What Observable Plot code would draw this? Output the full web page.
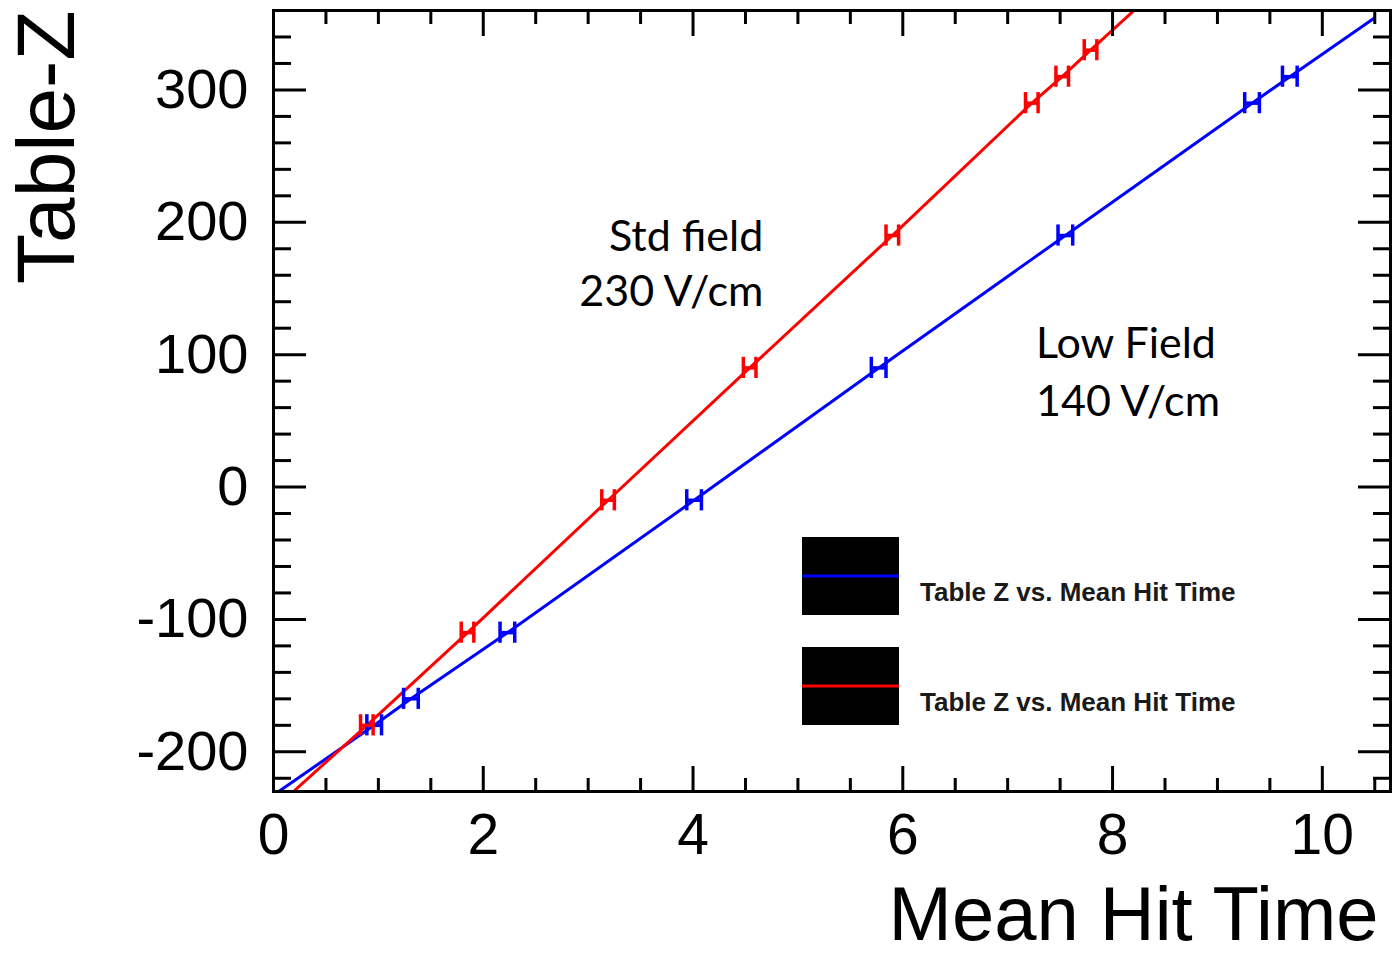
<!DOCTYPE html>
<html>
<head>
<meta charset="utf-8">
<script src="https://cdn.jsdelivr.net/npm/d3@7"></script>
<script src="https://cdn.jsdelivr.net/npm/@observablehq/plot@0.6"></script>
<style>
  body { margin: 0; background: #fff; }
  #chart svg { display: block; }
</style>
</head>
<body>
<div id="chart"></div>
<script>
// ---- Data ----
// Std field (230 V/cm) measurement points: x = mean hit time, y = table Z, xErr = half width
const redX    = [0.89, 1.85, 3.19, 4.54, 5.90, 7.23, 7.52, 7.79];
const redY    = [-180, -110, -10, 90, 190, 290, 310, 330];
const redErr  = [0.06, 0.06, 0.06, 0.06, 0.06, 0.06, 0.06, 0.06];
// Low field (140 V/cm) measurement points
const blueX   = [0.96, 1.31, 2.23, 4.01, 5.77, 7.55, 9.33, 9.69];
const blueY   = [-180, -160, -110, -10, 90, 190, 290, 310];
const blueErr = [0.07, 0.07, 0.07, 0.07, 0.07, 0.07, 0.07, 0.07];
// Connecting curves (graph lines) including their ends
const redLineX  = [0.19, 0.89, 1.85, 3.19, 4.54, 5.90, 7.23, 7.52, 7.79, 8.26];
const redLineY  = [-230, -180, -110, -10, 90, 190, 290, 310, 330, 364];
const blueLineX = [0.05, 0.96, 1.31, 2.23, 4.01, 5.77, 7.55, 9.33, 9.69, 10.49];
const blueLineY = [-230, -180, -160, -110, -10, 90, 190, 290, 310, 354];
// Axis ticks
const xMajor = [0, 2, 4, 6, 8, 10];
const xMinor = [0.5, 1, 1.5, 2.5, 3, 3.5, 4.5, 5, 5.5, 6.5, 7, 7.5, 8.5, 9, 9.5, 10.5];
const yMajor = [-200, -100, 0, 100, 200, 300];
const yMinor = [-220, -180, -160, -140, -120, -80, -60, -40, -20, 20, 40, 60, 80, 120, 140, 160, 180, 220, 240, 260, 280, 320, 340];
// Annotations
const annoText = ["Std field", "230 V/cm", "Low Field", "140 V/cm"];
const annoX    = [4.67, 4.67, 7.27, 7.27];
const annoY    = [189, 147, 108, 64];
const annoSide = ["end", "end", "start", "start"];
// Legend
const legendLabels = ["Table Z vs. Mean Hit Time", "Table Z vs. Mean Hit Time"];
const seriesColors = ["#0000ff", "#ff0000"];

// ---- Build tables ----
const red  = redX.map((x, i) => ({x, y: redY[i], e: redErr[i]}));
const blue = blueX.map((x, i) => ({x, y: blueY[i], e: blueErr[i]}));
const redLine  = redLineX.map((x, i) => ({x, y: redLineY[i]}));
const blueLine = blueLineX.map((x, i) => ({x, y: blueLineY[i]}));
const annos = annoText.map((t, i) => ({t, x: annoX[i], y: annoY[i], a: annoSide[i]}));

const W = 1393, H = 960;
const capHalf = 8; // cap half-height in y units (~10 px)

function errMarks(data, color) {
  return [
    Plot.link(data, {x1: d => d.x - d.e, x2: d => d.x + d.e, y1: "y", y2: "y", stroke: color, strokeWidth: 3.5}),
    Plot.ruleX(data, {x: d => d.x - d.e, y1: d => d.y - capHalf, y2: d => d.y + capHalf, stroke: color, strokeWidth: 3.5}),
    Plot.ruleX(data, {x: d => d.x + d.e, y1: d => d.y - capHalf, y2: d => d.y + capHalf, stroke: color, strokeWidth: 3.5})
  ];
}

const plot = Plot.plot({
  width: W,
  height: H,
  marginLeft: 273,
  marginRight: 3,
  marginTop: 10,
  marginBottom: 169,
  style: {fontFamily: "'Liberation Sans', Arial, Helvetica, sans-serif", background: "#fff", color: "#000"},
  x: {domain: [0, 10.65]},
  y: {domain: [-230, 360]},
  marks: [
    // data lines
    Plot.line(blueLine, {x: "x", y: "y", stroke: seriesColors[0], strokeWidth: 3, clip: true}),
    Plot.line(redLine,  {x: "x", y: "y", stroke: seriesColors[1], strokeWidth: 3, clip: true}),
    ...errMarks(blue, seriesColors[0]),
    ...errMarks(red,  seriesColors[1]),
    // inward ticks on all four sides
    Plot.axisX(xMajor, {anchor: "bottom", tickSize: -25, strokeWidth: 3, tickFormat: () => "", label: null}),
    Plot.axisX(xMinor, {anchor: "bottom", tickSize: -13, strokeWidth: 3, tickFormat: () => "", label: null}),
    Plot.axisX(xMajor, {anchor: "top", tickSize: -25, strokeWidth: 3, tickFormat: () => "", label: null}),
    Plot.axisX(xMinor, {anchor: "top", tickSize: -13, strokeWidth: 3, tickFormat: () => "", label: null}),
    Plot.axisY(yMajor, {anchor: "left", tickSize: -33, strokeWidth: 3, tickFormat: () => "", label: null}),
    Plot.axisY(yMinor, {anchor: "left", tickSize: -18, strokeWidth: 3, tickFormat: () => "", label: null}),
    Plot.axisY(yMajor, {anchor: "right", tickSize: -33, strokeWidth: 3, tickFormat: () => "", label: null}),
    Plot.axisY(yMinor, {anchor: "right", tickSize: -18, strokeWidth: 3, tickFormat: () => "", label: null}),
    // tick labels
    Plot.axisX(xMajor, {anchor: "bottom", tickSize: 0, tickPadding: 22, fontSize: 57, tickFormat: d => String(d), label: null}),
    Plot.axisY(yMajor, {anchor: "left", tickSize: 0, tickPadding: 25, fontSize: 56, tickFormat: d => String(d), label: null}),
    Plot.frame({stroke: "#000", strokeWidth: 3}),
    // axis titles
    Plot.text(["Table-Z"], {frameAnchor: "top-left", text: d => d, rotate: -90, textAnchor: "end", lineAnchor: "middle", dx: -226, dy: 0, fontSize: 82, fill: "#000"}),
    Plot.text(["Mean Hit Time"], {frameAnchor: "bottom-right", text: d => d, textAnchor: "end", lineAnchor: "middle", dx: -12, dy: 124, fontSize: 76, fill: "#000"}),
    // annotations
    Plot.text(annos.filter(d => d.a === "end"), {x: "x", y: "y", text: "t", textAnchor: "end", lineAnchor: "middle", fontSize: 43, fontFamily: "Lato, 'Open Sans', sans-serif", fill: "#000"}),
    Plot.text(annos.filter(d => d.a === "start"), {x: "x", y: "y", text: "t", textAnchor: "start", lineAnchor: "middle", fontSize: 43, fontFamily: "Lato, 'Open Sans', sans-serif", fill: "#000"})
  ]
});

document.getElementById("chart").appendChild(plot);

// ---- Legend (drawn inside the plot's SVG) ----
const svg = d3.select(plot);
const lg = svg.append("g").attr("class", "legend");
const boxX = 802, boxW = 97, boxH = 78, boxTops = [537, 647];
legendLabels.forEach((lab, i) => {
  const top = boxTops[i];
  lg.append("rect").attr("x", boxX).attr("y", top).attr("width", boxW).attr("height", boxH).attr("fill", "#000");
  lg.append("line").attr("x1", boxX).attr("x2", boxX + boxW).attr("y1", top + 39).attr("y2", top + 39)
    .attr("stroke", seriesColors[i]).attr("stroke-width", 3);
  lg.append("text").attr("x", 920).attr("y", top + 64).text(lab)
    .attr("text-anchor", "start")
    .attr("font-family", "'Liberation Sans', Arial, sans-serif").attr("font-weight", "bold")
    .attr("font-size", 26).attr("fill", "#1a1a1a");
});
</script>
</body>
</html>
